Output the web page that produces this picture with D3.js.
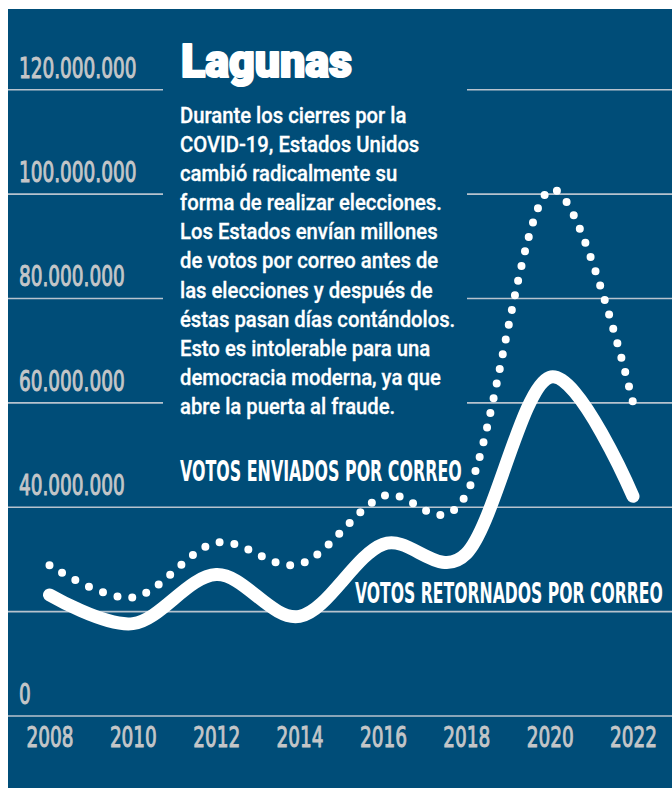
<!DOCTYPE html>
<html>
<head>
<meta charset="utf-8">
<script src="https://cdn.jsdelivr.net/npm/d3@7"></script>
<style>
  body { margin: 0; background: #fff; }
  svg { display: block; }
</style>
</head>
<body>
<svg id="chart" width="672" height="788"></svg>
<script>
// values (millions of ballots)
const years = [2008, 2010, 2012, 2014, 2016, 2018, 2020, 2022];
const sentVotes = [28.8, 22.6, 33.1, 29.0, 42.0, 42.4, 100.7, 60.0];
const returnedVotes = [23.1, 17.6, 27.0, 19.0, 32.8, 31.0, 64.8, 42.0];
const gridValues = [0, 20, 40, 60, 80, 100, 120];
const labelValues = [0, 40, 60, 80, 100, 120];

const title = "Lagunas";
const bodyLines = [
  "Durante los cierres por la",
  "COVID-19, Estados Unidos",
  "cambió radicalmente su",
  "forma de realizar elecciones.",
  "Los Estados envían millones",
  "de votos por correo antes de",
  "las elecciones y después de",
  "éstas pasan días contándolos.",
  "Esto es intolerable para una",
  "democracia moderna, ya que",
  "abre la puerta al fraude."
];
const sentLabel = "VOTOS ENVIADOS POR CORREO";
const returnedLabel = "VOTOS RETORNADOS POR CORREO";

const BG = "#004d78";
const GRID = "#b7c3ce";
const TICK = "#c4c6c8";
const NARROW = "'Liberation Sans Narrow', 'DejaVu Sans Condensed', 'Liberation Sans', sans-serif";

const svg = d3.select("#chart");

svg.append("rect")
  .attr("x", 8).attr("y", 9)
  .attr("width", 664).attr("height", 779)
  .attr("fill", BG);

const x = d3.scaleLinear().domain([2008, 2022]).range([49.5, 633]);
const y = d3.scaleLinear().domain([0, 120]).range([715.5, 89.2]);

const esLocale = d3.formatLocale({decimal: ",", thousands: ".", grouping: [3], currency: ["", ""]});
const fmt = esLocale.format(",");

// gridlines
const grid = svg.append("g")
  .attr("transform", "translate(8,0)")
  .call(d3.axisRight(y).tickValues(gridValues).tickSize(664).tickFormat(""));
grid.select(".domain").remove();
grid.selectAll("line").attr("stroke", GRID).attr("stroke-width", 1.6);

// text box covers the gridlines behind it
svg.append("rect")
  .attr("x", 163).attr("y", 25)
  .attr("width", 304).attr("height", 410)
  .attr("fill", BG);

// width of a reference string, used to squeeze the regular font into a condensed look
function measure(str, size, weight, family) {
  const t = svg.append("text")
    .attr("font-size", size).attr("font-weight", weight)
    .attr("font-family", family).text(str);
  const w = t.node().getComputedTextLength();
  t.remove();
  return w;
}

const tickSize = 29;
const squeeze = 47 / measure("2008", tickSize, "normal", NARROW);

function tickStyle(sel) {
  sel.attr("transform", `scale(${squeeze},1)`)
    .attr("fill", TICK)
    .attr("stroke", TICK)
    .attr("stroke-width", 1)
    .attr("font-family", NARROW)
    .attr("font-size", tickSize)
    .attr("font-weight", "normal");
}

// y labels
const yAxis = svg.append("g")
  .attr("transform", "translate(19,0)")
  .call(d3.axisRight(y).tickValues(labelValues).tickSize(0).tickPadding(0)
    .tickFormat(d => fmt(d * 1e6)));
yAxis.select(".domain").remove();
yAxis.selectAll("text")
  .attr("x", 0).attr("y", -12).attr("dy", null)
  .attr("text-anchor", "start")
  .call(tickStyle);

// x labels
const xAxis = svg.append("g")
  .attr("transform", `translate(0,${y(0)})`)
  .call(d3.axisBottom(x).tickValues(years).tickSize(0).tickFormat(d3.format("d")));
xAxis.select(".domain").remove();
xAxis.selectAll("text")
  .attr("y", 31.5).attr("dy", null)
  .call(tickStyle);

// title
svg.append("text")
  .attr("x", 181).attr("y", 77)
  .attr("fill", "#fff")
  .attr("stroke", "#fff")
  .attr("stroke-width", 2.2)
  .attr("stroke-linejoin", "round")
  .attr("font-family", "Roboto, 'Liberation Sans', sans-serif")
  .attr("font-weight", 900)
  .attr("font-size", 47)
  .attr("textLength", 171)
  .attr("lengthAdjust", "spacingAndGlyphs")
  .text(title);

// body copy
const bodyFamily = "Roboto, 'Liberation Sans', sans-serif";
const bodySize = 21.5;
const bodySqueeze = 262 / measure(bodyLines[3], bodySize, 500, bodyFamily);
const body = svg.append("g")
  .attr("transform", `translate(180,0) scale(${bodySqueeze},1)`);
body.selectAll("text")
  .data(bodyLines)
  .join("text")
  .attr("x", 0)
  .attr("y", (d, i) => 123 + i * 29.1)
  .attr("fill", "#fff")
  .attr("stroke", "#fff")
  .attr("stroke-width", 0.3)
  .attr("font-family", bodyFamily)
  .attr("font-weight", 500)
  .attr("font-size", bodySize)
  .text(d => d);

// curves
const line = d3.line()
  .x((d, i) => x(years[i]))
  .y(d => y(d))
  .curve(d3.curveCardinal.tension(0));

svg.append("path")
  .datum(sentVotes)
  .attr("d", line)
  .attr("fill", "none")
  .attr("stroke", "#fff")
  .attr("stroke-width", 8)
  .attr("stroke-linecap", "round")
  .attr("stroke-dasharray", "0 15");

svg.append("path")
  .datum(returnedVotes)
  .attr("d", line)
  .attr("fill", "none")
  .attr("stroke", "#fff")
  .attr("stroke-width", 13)
  .attr("stroke-linecap", "round")
  .attr("stroke-linejoin", "round");

// series labels, squeezed to the width they take in the original
const labelSize = 27.5;
function seriesLabel(str, left, base, width) {
  const k = width / measure(str, labelSize, "bold", NARROW);
  svg.append("text")
    .attr("transform", `translate(${left},${base}) scale(${k},1)`)
    .attr("fill", "#fff")
    .attr("font-family", NARROW)
    .attr("font-weight", "bold")
    .attr("font-size", labelSize)
    .text(str);
}
seriesLabel(sentLabel, 180, 481, 282);
seriesLabel(returnedLabel, 355, 602.5, 308);
</script>
</body>
</html>
